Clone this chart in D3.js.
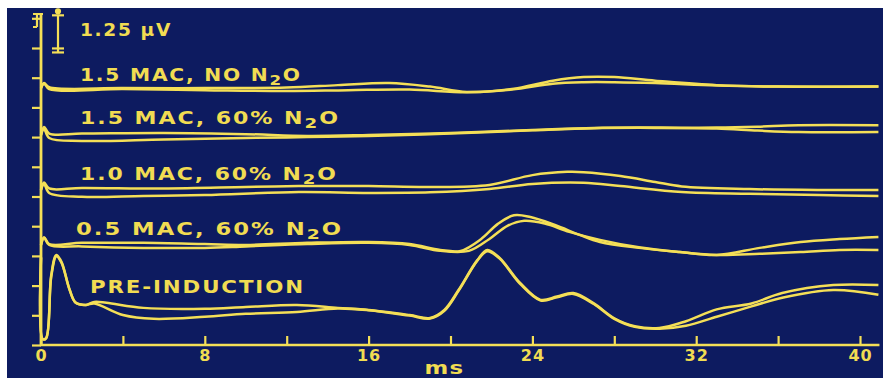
<!DOCTYPE html>
<html>
<head>
<meta charset="utf-8">
<script src="https://cdn.jsdelivr.net/npm/d3@7"></script>
<style>
  html, body { margin: 0; padding: 0; background: #fff; }
  svg { display: block; }
  text { font-family: "DejaVu Sans", sans-serif; font-weight: bold; fill: #f1dc52; }
</style>
</head>
<body>
<svg id="chart" width="883" height="378"></svg>
<script>
// axis ticks (ms on x, unlabelled µV divisions on y)
const xTicks = d3.range(0, 41, 4);
const yTicks = d3.range(0, 12);

// trace labels, split round the subscript
const traceLabels = [
  ["1.5 MAC, NO N", "2", "O"],
  ["1.5 MAC, 60% N", "2", "O"],
  ["1.0 MAC, 60% N", "2", "O"],
  ["0.5 MAC, 60% N", "2", "O"],
  ["PRE-INDUCTION"]
];
// baseline of each trace, µV on the stacked scale
const baselines = [8.65, 7.07, 5.22, 3.37, 1.35];

// two superimposed recordings per trace: [ms, µV from baseline]
const noN2oA = [[0,0],[0.15,0.17],[0.4,0.03],[4,0],[8,0],[12,0.02],[14.5,0.1],[17,0.17],[19,0.05],[20.8,-0.13],[23,-0.03],[25,0.25],[26.5,0.37],[28,0.37],[30,0.25],[33,0.1],[36,0.05],[40.9,0.05]];
const noN2oB = [[0,0],[0.15,0.15],[0.4,-0.03],[4,-0.03],[8,-0.07],[12,-0.1],[15,-0.07],[18,-0.05],[20.8,-0.14],[23,-0.05],[25,0.15],[26.5,0.2],[28,0.2],[30,0.17],[33,0.09],[36,0.05],[40.9,0.05]];

const mac15A = [[0,0],[0.15,0.27],[0.4,0.05],[2,0.05],[6,0.07],[10,0.03],[13,-0.03],[16,0],[20,0.07],[24,0.17],[27,0.24],[30,0.25],[33,0.25],[35,0.28],[37,0.33],[40.9,0.33]];
const mac15B = [[0,0],[0.15,0.2],[0.4,-0.1],[2,-0.2],[6,-0.15],[10,-0.1],[13,-0.07],[16,-0.03],[20,0.05],[24,0.16],[27,0.23],[30,0.24],[33,0.22],[35,0.15],[37,0.1],[40.9,0.1]];

const mac10A = [[0,0],[0.15,0.25],[0.4,0.05],[2,0.07],[6,0.05],[10,0.1],[12.6,0.13],[16,0.13],[19,0.1],[21.9,0.17],[24,0.5],[25.7,0.61],[26.5,0.6],[28.3,0.47],[30,0.27],[31.3,0.12],[34.6,0.03],[38,0],[40.9,0]];
const mac10B = [[0,0],[0.15,0.2],[0.4,-0.1],[2,-0.23],[5,-0.2],[8,-0.17],[12.6,-0.07],[16,-0.1],[19,-0.08],[21.9,0.03],[24,0.2],[26.5,0.24],[28.3,0.13],[31.3,-0.07],[34.6,-0.13],[38,-0.17],[40.9,-0.2]];

const mac05A = [[0,0],[0.15,0.25],[0.4,0.03],[2,0.07],[5,0.07],[8,0.03],[10,0],[13,0.07],[16,0.1],[18,0.03],[19.5,-0.17],[20.5,-0.2],[21.5,0.2],[22.3,0.7],[23.1,1.0],[23.9,0.94],[25.1,0.67],[26.3,0.34],[27.3,0.1],[29.2,-0.1],[31.2,-0.24],[33,-0.34],[35.1,-0.1],[37.1,0.1],[39,0.2],[40.9,0.27]];
const mac05B = [[0,0],[0.15,0.25],[0.4,0],[2,-0.05],[5,-0.1],[8,-0.1],[10,-0.05],[13,0.03],[16,0.07],[18,0],[19.5,-0.2],[20.9,-0.2],[21.9,0.2],[22.8,0.65],[23.6,0.81],[24.6,0.72],[25.8,0.44],[27.3,0.17],[29.2,-0.08],[31.2,-0.24],[33,-0.34],[35.1,-0.3],[37.1,-0.24],[39,-0.17],[40.9,-0.17]];

const preA = [[0,1.6],[0.08,-1.15],[0.25,-1.12],[0.5,1.0],[0.75,1.68],[1.0,1.45],[1.4,0.51],[1.7,0.07],[2.2,0],[2.6,0.1],[3.2,0.07],[5,-0.1],[8,-0.13],[10,-0.07],[12.5,0],[14.5,-0.1],[16,-0.17],[18,-0.34],[19,-0.44],[19.7,-0.17],[20.4,0.51],[21.3,1.5],[21.8,1.85],[22.4,1.58],[23.4,0.74],[24.4,0.17],[25.2,0.28],[26,0.4],[27,0.05],[28,-0.45],[29,-0.72],[30.2,-0.78],[31.5,-0.55],[33,-0.15],[34.7,0.05],[36.2,0.4],[38.7,0.67],[40.9,0.67]];
const preB = [[0,1.6],[0.08,-1.15],[0.25,-1.12],[0.5,0.95],[0.75,1.64],[1.0,1.42],[1.4,0.5],[1.7,0.07],[2.2,0],[2.6,0.05],[4,-0.34],[5.5,-0.47],[8,-0.4],[10,-0.3],[12.5,-0.24],[14.5,-0.12],[16,-0.18],[18,-0.36],[19,-0.46],[19.7,-0.2],[20.4,0.48],[21.3,1.48],[21.8,1.81],[22.4,1.56],[23.4,0.71],[24.4,0.15],[25.2,0.26],[26,0.37],[27,0.03],[28,-0.47],[29,-0.74],[30.2,-0.8],[31.5,-0.7],[33,-0.4],[34.7,-0.05],[36.2,0.24],[38.7,0.5],[40.9,0.34]];

const traces = [[noN2oA, noN2oB], [mac15A, mac15B], [mac10A, mac10B], [mac05A, mac05B], [preA, preB]];

const ink = "#f4df57";
const svg = d3.select("#chart");

// photo background with white edge
svg.append("rect").attr("width", 883).attr("height", 378).attr("fill", "#fff");
svg.append("rect").attr("x", 7).attr("y", 8).attr("width", 876).attr("height", 370).attr("fill", "#0d1b60");

const x = d3.scaleLinear().domain([0, 40]).range([41, 860]);
const y = d3.scaleLinear().domain([0, 11]).range([345, 18.3]);

// x axis, ticks pointing up
const xAxis = svg.append("g")
  .attr("transform", "translate(0," + y(0) + ")")
  .call(d3.axisBottom(x).tickValues(xTicks).tickSize(-9).tickPadding(5)
    .tickFormat(d => d % 8 === 0 ? d : ""));
xAxis.select(".domain").remove();
xAxis.selectAll("line").attr("stroke", ink).attr("stroke-width", 2.2);
xAxis.selectAll("text").attr("fill", ink).style("font-size", "16px").attr("font-family", null)
  .attr("letter-spacing", 1);
xAxis.append("line")
  .attr("x1", x(0) - 1).attr("x2", x(40.95))
  .attr("stroke", ink).attr("stroke-width", 2.4);

// y axis, ticks pointing left
const yAxis = svg.append("g")
  .attr("transform", "translate(" + x(0) + ",0)")
  .call(d3.axisLeft(y).tickValues(yTicks).tickSize(9).tickFormat(""));
yAxis.select(".domain").remove();
yAxis.selectAll("line").attr("stroke", ink).attr("stroke-width", 2.2);
yAxis.append("line")
  .attr("y1", 14).attr("y2", y(0) + 1)
  .attr("stroke", ink).attr("stroke-width", 2.8);
// bracket at top of the axis
yAxis.append("path")
  .attr("d", "M-8,14H2M-4,14V27M-8,27H-4")
  .attr("fill", "none").attr("stroke", ink).attr("stroke-width", 2.2);

// calibration bar: 1.25 µV
const barX = 58, barBottom = y(9.85), barTop = y(9.85 + 1.25);
const cal = svg.append("g").attr("stroke", ink).attr("stroke-width", 2.2).attr("fill", "none");
cal.append("line").attr("x1", barX).attr("x2", barX).attr("y1", barTop).attr("y2", barBottom);
cal.append("line").attr("x1", barX - 6).attr("x2", barX + 6).attr("y1", barTop).attr("y2", barTop);
cal.append("line").attr("x1", barX - 6).attr("x2", barX + 6).attr("y1", barBottom).attr("y2", barBottom);
cal.append("line").attr("x1", barX - 6).attr("x2", barX + 6).attr("y1", barBottom - 4).attr("y2", barBottom - 4);
cal.append("circle").attr("cx", barX).attr("cy", barTop - 4).attr("r", 2).attr("fill", ink);

// stretch a text horizontally so it spans the width seen in the picture
function fitText(sel, px, py, target) {
  const w = sel.node().getComputedTextLength();
  sel.attr("transform", "translate(" + px + "," + py + ") scale(" + (target / w) + ",1)");
}

const calText = svg.append("text").style("font-size", "17px").attr("letter-spacing", 1.5).text("1.25 \u00b5V");
fitText(calText, 80, 36, 92);

// the traces
const line = d3.line()
  .x(d => x(d[0]))
  .curve(d3.curveCatmullRom.alpha(0.5));

traces.forEach((pair, i) => {
  pair.forEach(rec => {
    svg.append("path")
      .datum(rec)
      .attr("fill", "none")
      .attr("stroke", ink)
      .attr("stroke-width", 2.5)
      .attr("stroke-linejoin", "round")
      .attr("d", line.y(d => y(baselines[i] + d[1])));
  });
});

// trace labels
const labelX = [80, 80, 80, 76, 90];
const labelWidth = [222, 260, 258, 267, 215];
const labelRaise = [7, 11, 10, 10, 12];
traceLabels.forEach((parts, i) => {
  const t = svg.append("text")
    .style("font-size", "17px")
    .attr("letter-spacing", 1.5);
  t.append("tspan").text(parts[0]);
  if (parts.length > 1) {
    t.append("tspan").attr("dy", 4).style("font-size", "14px").text(parts[1]);
    t.append("tspan").attr("dy", -4).text(parts[2]);
  }
  fitText(t, labelX[i], y(baselines[i]) - labelRaise[i], labelWidth[i]);
});

// axis title
const msText = svg.append("text")
  .attr("text-anchor", "middle")
  .style("font-size", "17px")
  .attr("letter-spacing", 1)
  .text("ms");
fitText(msText, x(19.7), 374, 40);
</script>
</body>
</html>
